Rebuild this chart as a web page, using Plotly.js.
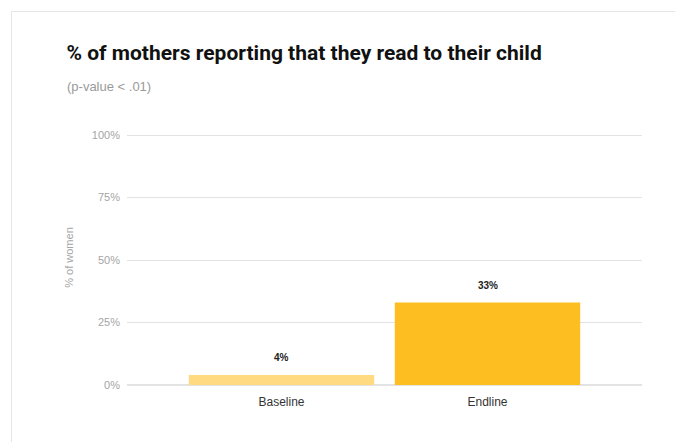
<!DOCTYPE html>
<html>
<head>
<meta charset="utf-8">
<script src="https://cdn.plot.ly/plotly-3.0.1.min.js"></script>
<style>
html,body{margin:0;padding:0;background:#fff;}
#chart{width:675px;height:442px;position:absolute;left:0;top:0;}
#frame{position:absolute;left:11px;top:11px;width:700px;height:500px;border-left:1px solid #e6e6e6;border-top:1px solid #e6e6e6;pointer-events:none;}
</style>
</head>
<body>
<div id="chart"></div>
<div id="frame"></div>
<script>
const categories = ["Baseline", "Endline"];
const values = [4, 33];
const labels = ["4%", "33%"];
const colors = ["#FFDA80", "#FDBE21"];
const yTickVals = [0, 25, 50, 75, 100];
const yTickText = ["0%", "25%", "50%", "75%", "100%"];
const titleText = "% of mothers reporting that they read to their child";
const subtitleText = "(p-value < .01)";

const trace = {
  type: "bar",
  x: categories,
  y: values,
  marker: {color: colors, line: {width: 0}},
  hoverinfo: "none"
};

const annotations = categories.map((c, i) => ({
  x: c, y: values[i], xref: "x", yref: "y",
  text: "<b>" + labels[i] + "</b>",
  showarrow: false, yanchor: "bottom", yshift: 10,
  font: {family: "Liberation Sans, Arial, sans-serif", size: 10, color: "#222"}
}));

annotations.push({
  xref: "paper", yref: "paper", x: -0.1205, y: 1.1725, xanchor: "left", yanchor: "middle",
  text: subtitleText, showarrow: false,
  font: {family: "Liberation Sans, Arial, sans-serif", size: 13, color: "#9a9a9a"}
});

const layout = {
  width: 675, height: 442,
  margin: {l: 127, r: 33, t: 130, b: 57},
  paper_bgcolor: "#fff", plot_bgcolor: "#fff",
  title: {
    text: "<b>" + titleText + "</b>",
    x: 0.0985, xref: "container", xanchor: "left", y: 0.880, yref: "container", yanchor: "middle",
    font: {family: "Roboto, sans-serif", size: 21, color: "#111"}
  },
  bargap: 0.1,
  showlegend: false,
  xaxis: {
    range: [-0.75, 1.75], showgrid: false, zeroline: false, showline: false,
    ticks: "", ticklabelstandoff: 8,
    tickfont: {family: "Liberation Sans, Arial, sans-serif", size: 12, color: "#333"},
    fixedrange: true
  },
  yaxis: {
    range: [0, 102], tickvals: yTickVals, ticktext: yTickText,
    showgrid: true, gridcolor: "#e3e3e3", gridwidth: 1,
    zeroline: true, zerolinecolor: "#e3e3e3", zerolinewidth: 1.5,
    showline: false, ticks: "", ticklabelstandoff: 6,
    tickfont: {family: "Liberation Sans, Arial, sans-serif", size: 11, color: "#a5a5a5"},
    title: {text: "% of women", standoff: 16, font: {family: "Liberation Sans, Arial, sans-serif", size: 11, color: "#a5a5a5"}},
    fixedrange: true
  },
  annotations: annotations
};

Plotly.newPlot("chart", [trace], layout, {displayModeBar: false, staticPlot: true});
</script>
</body>
</html>
